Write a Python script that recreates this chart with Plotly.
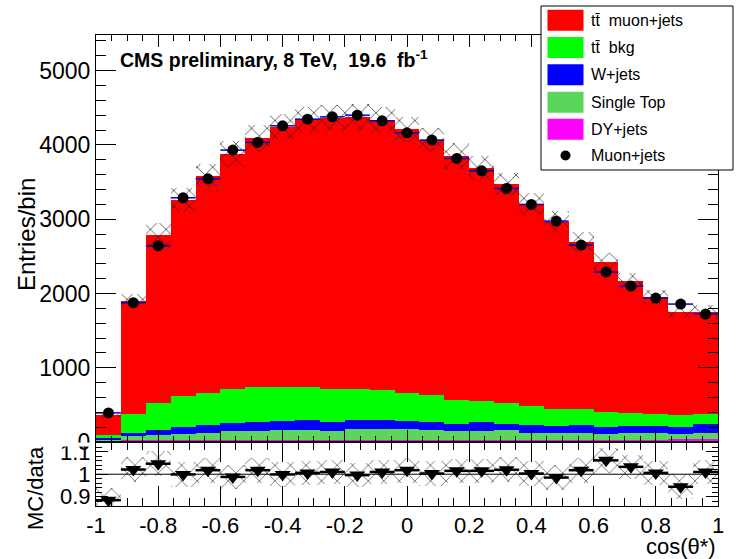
import plotly.graph_objects as go

# ---------------- data ----------------
bin_centers = [-0.96, -0.88, -0.80, -0.72, -0.64, -0.56, -0.48, -0.40, -0.32, -0.24,
               -0.16, -0.08, 0.00, 0.08, 0.16, 0.24, 0.32, 0.40, 0.48, 0.56,
               0.64, 0.72, 0.80, 0.88, 0.96]
bin_width = 0.08

dy_jets = [15, 28, 28, 28, 28, 28, 28, 28, 28, 28, 28, 28, 28, 28, 28, 28, 28, 28, 28, 28,
           28, 28, 28, 40, 40]
single_top = [25, 53, 66, 80, 89, 120, 124, 133, 133, 120, 143, 143, 143, 133, 120, 120, 133,
              98, 98, 98, 80, 89, 89, 68, 86]
w_jets = [15, 45, 67, 89, 112, 112, 113, 122, 135, 121, 125, 125, 107, 113, 94, 117, 81,
          103, 89, 103, 98, 103, 103, 89, 116]
tt_bkg = [39, 255, 359, 426, 426, 453, 480, 462, 449, 440, 413, 404, 377, 354, 323, 291,
          278, 256, 225, 211, 198, 166, 161, 162, 139]
tt_signal = [265, 1519, 2266, 2634, 2929, 3159, 3342, 3499, 3598, 3656, 3669, 3634, 3553,
             3437, 3289, 3128, 2952, 2718, 2525, 2248, 2015, 1785, 1566, 1395, 1373]
data_counts = [392, 1875, 2642, 3288, 3544, 3930, 4034, 4257, 4347, 4378, 4401, 4324, 4163,
               4065, 3818, 3652, 3414, 3199, 2974, 2651, 2288, 2100, 1938, 1857, 1723]
ratio_mc_data = [0.884, 1.021, 1.047, 0.999, 1.018, 0.988, 1.018, 0.999, 1.006, 1.010,
                 0.996, 1.010, 1.018, 1.003, 1.015, 1.015, 1.020, 1.003, 0.985, 1.018,
                 1.062, 1.033, 1.006, 0.944, 1.010]
mc_rel_unc = [0.05, 0.05, 0.06, 0.05, 0.045, 0.045, 0.045, 0.04, 0.04, 0.04, 0.04, 0.04,
              0.04, 0.04, 0.045, 0.045, 0.045, 0.045, 0.05, 0.05, 0.05, 0.05, 0.05, 0.05, 0.05]
ratio_unc = [0.055] * 25

series_names = ["tt\u0304  muon+jets", "tt\u0304  bkg", "W+jets", "Single Top", "DY+jets", "Muon+jets"]
series_colors = ["#ff0000", "#00ff00", "#0000ff", "#5ad65a", "#ff00ff", "#000000"]

x_tickvals = [-1, -0.8, -0.6, -0.4, -0.2, 0, 0.2, 0.4, 0.6, 0.8, 1]
x_ticktext = ["-1", "-0.8", "-0.6", "-0.4", "-0.2", "0", "0.2", "0.4", "0.6", "0.8", "1"]
y_tickvals = [0, 1000, 2000, 3000, 4000, 5000]
y_ticktext = ["0", "1000", "2000", "3000", "4000", "5000"]
r_tickvals = [0.9, 1.0, 1.1]
r_ticktext = ["0.9", "1", "1.1"]

# ---------------- geometry ----------------
W, H = 736, 559
ML, MR, MT, MB = 96, 18, 35, 53
PW, PH = W - ML - MR, H - MT - MB
split = (506 - 442) / PH
FONT = "Liberation Sans, Arial, Helvetica, sans-serif"


def px(x):
    return (x - ML) / PW


def py(y):
    return (H - MB - y) / PH


fig = go.Figure()

# stacked components, bottom to top
stack = [(dy_jets, series_colors[4]), (single_top, series_colors[3]), (w_jets, series_colors[2]),
         (tt_bkg, series_colors[1]), (tt_signal, series_colors[0])]
base = [0.0] * len(bin_centers)
for vals, col in stack:
    fig.add_trace(go.Bar(x=bin_centers, y=vals, base=list(base), width=bin_width,
                         marker=dict(color=col, line=dict(width=0)),
                         xaxis="x", yaxis="y", showlegend=False, hoverinfo="skip"))
    base = [b + v for b, v in zip(base, vals)]
mc_total = base

# MC uncertainty hatch (top)
fig.add_trace(go.Bar(x=bin_centers, y=[2 * u * m for u, m in zip(mc_rel_unc, mc_total)],
                     base=[m * (1 - u) for u, m in zip(mc_rel_unc, mc_total)], width=bin_width,
                     marker=dict(color="rgba(0,0,0,0)", line=dict(width=0),
                                 pattern=dict(shape="x", fgcolor="#222222", bgcolor="rgba(0,0,0,0)",
                                              size=11, solidity=0.12, fillmode="replace")),
                     xaxis="x", yaxis="y", showlegend=False, hoverinfo="skip"))

# data
fig.add_trace(go.Scatter(x=bin_centers, y=data_counts, mode="markers",
                         marker=dict(color="black", size=11),
                         error_x=dict(type="constant", value=bin_width / 2, color="#0000cc",
                                      thickness=1.5, width=0),
                         xaxis="x", yaxis="y", showlegend=False, hoverinfo="skip"))

# ratio hatch
fig.add_trace(go.Bar(x=bin_centers, y=[2 * u for u in ratio_unc],
                     base=[r - u for r, u in zip(ratio_mc_data, ratio_unc)], width=bin_width,
                     marker=dict(color="rgba(0,0,0,0)", line=dict(width=0),
                                 pattern=dict(shape="x", fgcolor="#444444", bgcolor="rgba(0,0,0,0)",
                                              size=11, solidity=0.12, fillmode="replace")),
                     xaxis="x2", yaxis="y2", showlegend=False, hoverinfo="skip"))

fig.add_trace(go.Scatter(x=bin_centers, y=ratio_mc_data, mode="markers",
                         marker=dict(symbol="triangle-down", color="black", size=14),
                         error_x=dict(type="constant", value=bin_width / 2, color="black",
                                      thickness=2.5, width=0),
                         xaxis="x2", yaxis="y2", showlegend=False, hoverinfo="skip"))

axis_common = dict(showline=True, linecolor="black", linewidth=1, mirror="ticks",
                   showgrid=False, zeroline=False, tickcolor="black", ticks="inside")

fig.update_layout(
    width=W, height=H, margin=dict(l=ML, r=MR, t=MT, b=MB),
    paper_bgcolor="white", plot_bgcolor="white", barmode="overlay", bargap=0,
    font=dict(family=FONT, color="black"),
    showlegend=False,
    xaxis=dict(domain=[0, 1], anchor="y", range=[-1, 1], tickvals=x_tickvals, showticklabels=False,
               ticklen=12, minor=dict(ticks="inside", ticklen=6, dtick=0.05, tick0=-1, tickcolor="black"),
               **axis_common),
    yaxis=dict(domain=[split, 1], anchor="x", range=[0, 5480], tickvals=y_tickvals, ticktext=y_ticktext,
               ticklen=20, tickfont=dict(size=23),
               minor=dict(ticks="inside", ticklen=10, dtick=200, tick0=0, tickcolor="black"),
               **axis_common),
    xaxis2=dict(domain=[0, 1], anchor="y2", range=[-1, 1], matches="x", tickvals=x_tickvals,
                ticktext=x_ticktext, tickfont=dict(size=22), ticklen=20,
                minor=dict(ticks="inside", ticklen=8, dtick=0.05, tick0=-1, tickcolor="black"),
                **axis_common),
    yaxis2=dict(domain=[0, split], anchor="x2", range=[0.858, 1.144], tickvals=r_tickvals,
                ticktext=r_ticktext, tickfont=dict(size=22), ticklen=12,
                minor=dict(ticks="inside", ticklen=6, dtick=0.02, tick0=0.9, tickcolor="black"),
                **axis_common),
)

shapes = []
# line at ratio = 1
shapes.append(dict(type="line", xref="x2 domain", yref="y2", x0=0, x1=1, y0=1, y1=1,
                   line=dict(color="black", width=1)))
# clip lower half of the "0" label like the pad boundary in the reference
shapes.append(dict(type="rect", xref="paper", yref="paper", x0=px(40), x1=px(94.5), y0=py(446.5), y1=py(442.5),
                   fillcolor="white", line=dict(width=0), layer="above"))
# legend box
shapes.append(dict(type="rect", xref="paper", yref="paper", x0=px(541), x1=px(733), y0=py(170), y1=py(6),
                   fillcolor="white", line=dict(color="black", width=1), layer="above"))
leg_y = [20.3, 47.5, 74.7, 102.2, 129.2, 155.5]
annotations = []
for i in range(5):
    shapes.append(dict(type="rect", xref="paper", yref="paper", x0=px(547.5), x1=px(583.5),
                       y0=py(leg_y[i] + 10.5), y1=py(leg_y[i] - 10.5),
                       fillcolor=series_colors[i], line=dict(width=0), layer="above"))
shapes.append(dict(type="circle", xref="paper", yref="paper", x0=px(560.5), x1=px(570.5),
                   y0=py(leg_y[5] + 5), y1=py(leg_y[5] - 5), fillcolor="black",
                   line=dict(width=0), layer="above"))
for i in range(6):
    annotations.append(dict(xref="paper", yref="paper", x=px(589), y=py(leg_y[i]), text=series_names[i],
                            showarrow=False, xanchor="left", yanchor="middle",
                            font=dict(size=16, family=FONT, color="black")))

annotations.append(dict(xref="paper", yref="paper", x=px(118), y=py(59),
                        text="<b>CMS preliminary, 8 TeV,  19.6  fb<sup>-1</sup></b>",
                        showarrow=False, xanchor="left", yanchor="middle",
                        font=dict(size=19.5, family=FONT, color="black")))
annotations.append(dict(xref="paper", yref="paper", x=px(718), y=py(546), text="cos(θ*)",
                        showarrow=False, xanchor="right", yanchor="middle",
                        font=dict(size=22, family=FONT, color="black")))
annotations.append(dict(xref="paper", yref="paper", x=px(26), y=py(235), text="Entries/bin",
                        showarrow=False, textangle=-90, xanchor="center", yanchor="middle",
                        font=dict(size=24, family=FONT, color="black")))
annotations.append(dict(xref="paper", yref="paper", x=px(35), y=py(488), text="MC/data",
                        showarrow=False, textangle=-90, xanchor="center", yanchor="middle",
                        font=dict(size=22, family=FONT, color="black")))

fig.update_layout(shapes=shapes, annotations=annotations)
fig.write_html("out.html")
